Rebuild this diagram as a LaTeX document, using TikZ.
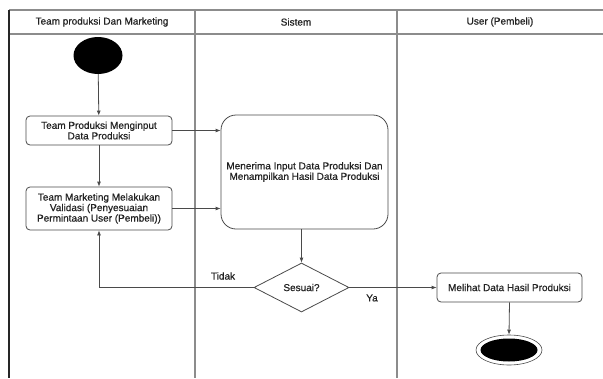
\documentclass[tikz,border=0pt]{standalone}
\usepackage{fontspec}
\setmainfont[FakeBold=0.6]{Liberation Sans}
\usetikzlibrary{arrows.meta,shapes.geometric}
\definecolor{laneline}{HTML}{8C8C8C}
\definecolor{boxline}{HTML}{4A4A4A}
\definecolor{txt}{HTML}{222222}
\tikzset{
  lbl/.style={font=\fontsize{10}{10.5}\selectfont, text=txt, inner sep=0pt, align=center},
  actbox/.style={lbl, draw=boxline, line width=0.8pt, rounded corners=4pt, fill=white},
  flow/.style={draw=boxline, line width=0.8pt, -{Latex[length=5pt,width=4pt]}},
  lane/.style={draw=laneline, line width=1.1pt},
}
\begin{document}
\begin{tikzpicture}[x=1pt,y=-1pt]
\useasboundingbox (0,0) rectangle (603,378);
\fill[white] (0,0) rectangle (603,378);
% swimlane frame
\draw[lane] (9,10) -- (603,10);
\draw[lane] (9,34) -- (603,34);
\draw[draw=black!85, line width=1.1pt] (9,10) -- (9,378);
\draw[lane] (195,10) -- (195,378);
\draw[lane] (397,10) -- (397,378);
\node[lbl] (h1) at (102,22) {Team produksi Dan Marketing};
\node[lbl] (h2) at (296,22) {Sistem};
\node[lbl] (h3) at (500,22) {User (Pembeli)};
% nodes
\node[ellipse, fill=black, minimum width=49pt, minimum height=37pt, inner sep=0pt] (start) at (98,55.5) {};
\node[actbox, minimum width=146pt, minimum height=29pt] (box1) at (99,130.5) {Team Produksi Menginput\\Data Produksi};
\node[actbox, minimum width=146pt, minimum height=43pt] (box2) at (99,208.5) {Team Marketing Melakukan\\Validasi (Penyesuaian\\Permintaan User (Pembeli))};
\node[actbox, rounded corners=15pt, minimum width=167pt, minimum height=114pt] (big) at (304.5,172) {Menerima Input Data Produksi Dan\\Menampilkan Hasil Data Produksi};
\node[lbl, diamond, draw=boxline, line width=0.8pt, fill=white, aspect=1.94, minimum width=95pt, minimum height=49pt] (dia) at (301.5,287.5) {Sesuai?};
\node[actbox, minimum width=145pt, minimum height=29pt] (final) at (509.5,287.5) {Melihat Data Hasil Produksi};
\node[ellipse, draw=boxline, line width=0.6pt, fill=white, minimum width=66pt, minimum height=30pt, inner sep=0pt] (endout) at (509,350) {};
\node[ellipse, fill=black, minimum width=57pt, minimum height=23pt, inner sep=0pt] (endin) at (509,350) {};
\node[lbl] (tidak) at (223,276) {Tidak};
\node[lbl] (ya) at (372,298) {Ya};
% connectors
\draw[flow] (start) -- (box1);
\draw[flow] (box1) -- (box2);
\draw[flow] (box1.east) -- (box1.east -| big.west);
\draw[flow] (box2.east) -- (box2.east -| big.west);
\draw[flow] (dia.north |- big.south) -- (dia.north);
\draw[flow] (dia.west) -| (box2.south);
\draw[flow] (dia.east) -- (final.west);
\draw[flow] (final.south) -- (endout.north);
\end{tikzpicture}
\end{document}
